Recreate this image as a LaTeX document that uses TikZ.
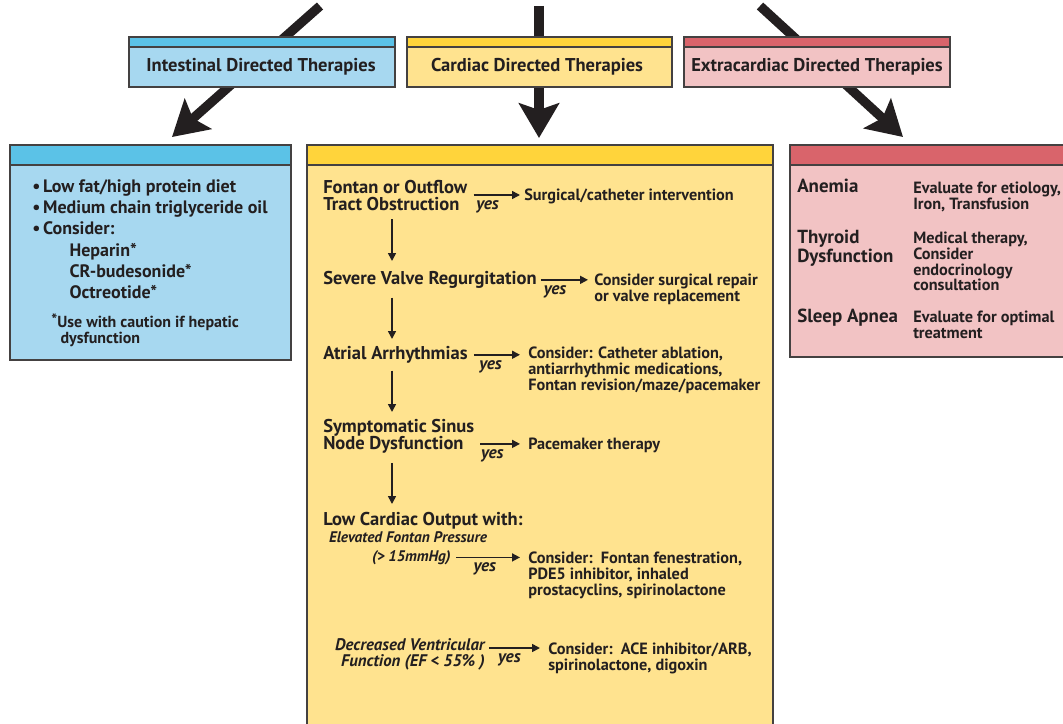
\documentclass[tikz,border=0pt]{standalone}
\usepackage{fontspec}
\setmainfont{PT Sans}
\usetikzlibrary{arrows.meta,calc}
\definecolor{ink}{HTML}{231F20}
\definecolor{blueS}{HTML}{5BC2E7}
\definecolor{blueL}{HTML}{A7D8F0}
\definecolor{yelS}{HTML}{FFD43B}
\definecolor{yelL}{HTML}{FFE38F}
\definecolor{redS}{HTML}{D9646B}
\definecolor{redL}{HTML}{F2C3C4}
\begin{document}
\begin{tikzpicture}[x=0.75pt,y=-0.75pt,
  bord/.style={draw=ink!85,line width=1.5pt},
  bigarrow/.style={ink,line width=7pt,-{Stealth[length=26pt,width=30pt,inset=5pt]}},
  sarrow/.style={ink,line width=1.2pt,-{Triangle[length=6pt,width=6pt]}},
  txt/.style={anchor=north west,inner sep=0pt,align=left,text=ink},
  hdrf/.style={inner sep=0pt,text=ink,font=\fontsize{13.9}{15}\bfseries\selectfont},
  mainf/.style={font=\fontsize{13.9}{13}\bfseries\selectfont},
  subf/.style={font=\fontsize{12.2}{11.7}\bfseries\selectfont},
  itfa/.style={font=\fontsize{11.5}{12}\bfseries\itshape\selectfont},
  itfb/.style={font=\fontsize{12.6}{12}\bfseries\itshape\selectfont},
  leftf/.style={font=\fontsize{13.5}{16}\bfseries\selectfont},
  notef/.style={font=\fontsize{12}{12}\bfseries\selectfont},
  rmainf/.style={font=\fontsize{14.2}{13}\bfseries\selectfont},
  yeslbl/.style={below,inner sep=1pt,yshift=-2.5pt,text=ink,font=\fontsize{13}{12}\bfseries\itshape\selectfont}]
\clip (0,0) rectangle (1063,724);
\fill[white] (0,0) rectangle (1063,724);

% big arrows (behind the header boxes)
\coordinate (sL) at (320,6);
\coordinate (tL) at (172,137);
\coordinate (sM) at (539,6);
\coordinate (tM) at (539,138);
\coordinate (sR) at (760,6);
\coordinate (tR) at (903,137);
\draw[bigarrow] (sL) -- (tL);
\draw[bigarrow] (sM) -- (tM);
\draw[bigarrow] (sR) -- (tR);

% header boxes
\fill[blueL] (129,37) rectangle (395,87);
\fill[blueS] (129,37) rectangle (395,47);
\draw[bord] (129,47) -- (395,47);
\draw[bord] (129,37) rectangle (395,87);
\node[hdrf] (ihdr) at (261,67) {Intestinal Directed Therapies};

\fill[yelL] (407,37) rectangle (672,87);
\fill[yelS] (407,37) rectangle (672,47);
\draw[bord] (407,47) -- (672,47);
\draw[bord] (407,37) rectangle (672,87);
\node[hdrf] (chdr) at (537,67) {Cardiac Directed Therapies};

\fill[redL] (684,37) rectangle (950,87);
\fill[redS] (684,37) rectangle (950,47);
\draw[bord] (684,47) -- (950,47);
\draw[bord] (684,37) rectangle (950,87);
\node[hdrf] (ehdr) at (817,67) {Extracardiac Directed Therapies};

% big boxes
\fill[blueL] (10,145) rectangle (291,360);
\fill[blueS] (10,145) rectangle (291,165);
\draw[bord] (10,165) -- (291,165);
\draw[bord] (10,145) rectangle (291,360);

\fill[yelL] (307,145) rectangle (773,740);
\fill[yelS] (307,145) rectangle (773,165);
\draw[bord] (307,165) -- (773,165);
\draw[bord] (307,145) rectangle (773,740);

\fill[redL] (790,145) rectangle (1075,357);
\fill[redS] (790,145) rectangle (1075,165);
\draw[bord] (790,165) -- (1075,165);
\draw[bord] (790,145) rectangle (1075,357);

% left box content
\node[txt,leftf] (ilist) at (32,179) {%
\makebox[8.2pt][l]{\textbullet}Low fat/high protein diet\\
\makebox[8.2pt][l]{\textbullet}Medium chain triglyceride oil\\
\makebox[8.2pt][l]{\textbullet}Consider:\\
\hspace*{28pt}Heparin*\\
\hspace*{28pt}CR-budesonide*\\
\hspace*{28pt}Octreotide*};
\node[txt,notef] (inote) at (51,314) {\raisebox{1pt}{*}Use with caution if hepatic\\\hspace*{7pt}dysfunction};

% right box content
\node[txt,rmainf] (anem) at (797,179) {Anemia};
\node[txt,subf] (anemT) at (913,182) {Evaluate for etiology,\\Iron, Transfusion};
\node[txt,rmainf] (thyr) at (797,230) {Thyroid\\Dysfunction};
\node[txt,subf] (thyrT) at (913,232) {Medical therapy,\\Consider\\endocrinology\\consultation};
\node[txt,rmainf] (sleep) at (797,309) {Sleep Apnea};
\node[txt,subf] (sleepT) at (913,311) {Evaluate for optimal\\treatment};

% cardiac flow
\node[txt,mainf] (fontan) at (323,180) {Fontan or Outflow\\Tract Obstruction};
\node[txt,subf] (surg) at (524,189) {Surgical/catheter intervention};
\node[txt,mainf] (sev) at (323,271) {Severe Valve Regurgitation};
\node[txt,subf] (sevT) at (594,274) {Consider surgical repair\\or valve replacement};
\node[txt,mainf] (atr) at (323,346) {Atrial Arrhythmias};
\node[txt,subf] (atrT) at (528,347) {Consider: Catheter ablation,\\antiarrhythmic medications,\\Fontan revision/maze/pacemaker};
\node[txt,mainf] (sinus) at (323,419) {Symptomatic Sinus\\Node Dysfunction};
\node[txt,subf] (pace) at (528,438) {Pacemaker therapy};
\node[txt,mainf] (low) at (323,512) {Low Cardiac Output with:};
\node[anchor=north,inner sep=0pt,text=ink,itfa] (elev1) at (408,531) {Elevated Fontan Pressure};
\node[anchor=north east,inner sep=0pt,text=ink,itfa] (elev2) at (451,550) {(> 15mmHg)};
\node[txt,subf] (elevT) at (528,552) {Consider:\ \ Fontan fenestration,\\PDE5 inhibitor, inhaled\\prostacyclins, spirinolactone};
\node[anchor=north east,inner sep=0pt,align=right,text=ink,itfb] (dec) at (485,638) {Decreased Ventricular\\Function (EF < 55\% )};
\node[txt,subf] (decT) at (548,643) {Consider:\ \ ACE inhibitor/ARB,\\spirinolactone, digoxin};

% horizontal yes arrows
\draw[sarrow] ($(fontan.north east)+(6,15)$) -- ($(surg.west |- fontan.north east)+(-4,15)$) node[yeslbl,pos=.3] (y1) {yes};
\draw[sarrow] ($(sev.east)+(4,0)$) -- ($(sevT.west |- sev.east)+(-6,0)$) node[yeslbl,pos=.3] (y2) {yes};
\draw[sarrow] ($(atr.east)+(6,0)$) -- ($(atrT.west |- atr.east)+(-8,0)$) node[yeslbl,pos=.36] (y3) {yes};
\draw[sarrow] ($(sinus.south east)+(6,-10)$) -- ($(pace.west |- sinus.south east)+(-8,-10)$) node[yeslbl,pos=.3] (y4) {yes};
\draw[sarrow] ($(elev2.east)+(5,0)$) -- ($(elevT.west |- elev2.east)+(-8,0)$) node[yeslbl,pos=.45] (y5) {yes};
\draw[sarrow] ($(dec.north east)+(4,10)$) -- ($(decT.west |- dec.north east)+(-8,10)$) node[yeslbl,pos=.4] (y6) {yes};

% vertical arrows
\draw[sarrow] ($(fontan.south west)+(69,8)$) -- ($(sev.north west)+(69,-10)$);
\draw[sarrow] ($(sev.south west)+(69,9)$) -- ($(atr.north west)+(69,-7)$);
\draw[sarrow] ($(atr.south west)+(69,7)$) -- ($(sinus.north west)+(69,-7)$);
\draw[sarrow] ($(sinus.south west)+(69,9)$) -- ($(low.north west)+(69,-8)$);
\end{tikzpicture}
\end{document}
